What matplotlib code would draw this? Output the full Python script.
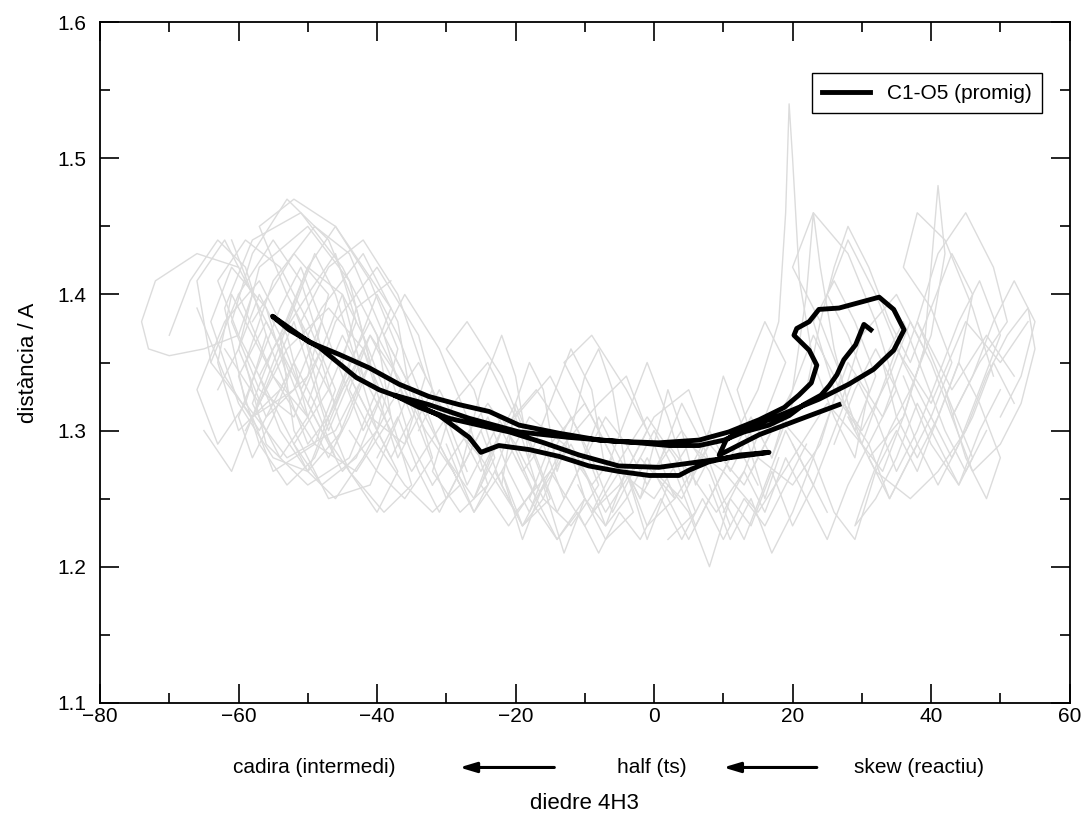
"""
plot.py — distància C1-O5 vs diedre 4H3 (trajectòries + promig)
"""

import matplotlib
matplotlib.use("Agg")
import matplotlib.pyplot as plt
from matplotlib.ticker import MultipleLocator

plt.rcParams["font.family"] = ["Liberation Sans", "DejaVu Sans"]

# ─────────────────────────────────────────────────────────
#  Trajectòries individuals (gris), llegides de la figura
# ─────────────────────────────────────────────────────────
traj_l1_x = [-60, -66, -72, -74, -73, -70, -65, -60, -58, -62, -66, -64, -58, -52, -48]
traj_l1_y = [1.42, 1.43, 1.41, 1.38, 1.36, 1.355, 1.36, 1.37, 1.40, 1.44, 1.41, 1.35, 1.31, 1.33, 1.38]

traj_l2_x = [-58, -52, -47, -50, -56, -60, -57, -50, -44, -41, -46, -53, -59, -62, -58,
             -51, -45, -40, -38, -43, -49, -55, -61, -63, -60, -54, -48, -42, -37, -35]
traj_l2_y = [1.38, 1.43, 1.40, 1.34, 1.31, 1.36, 1.42, 1.45, 1.41, 1.35, 1.30, 1.28, 1.32, 1.39, 1.44,
             1.46, 1.42, 1.37, 1.31, 1.27, 1.29, 1.34, 1.40, 1.35, 1.30, 1.33, 1.39, 1.43, 1.38, 1.32]

traj_l3_x = [-64, -60, -55, -51, -48, -52, -57, -61, -58, -53, -47, -43, -40, -44, -50,
             -56, -59, -55, -49, -44, -39, -36, -41, -47, -52, -54, -50, -45, -42, -46]
traj_l3_y = [1.35, 1.40, 1.44, 1.41, 1.36, 1.31, 1.33, 1.38, 1.43, 1.47, 1.44, 1.39, 1.33, 1.28, 1.26,
             1.29, 1.35, 1.41, 1.45, 1.43, 1.37, 1.32, 1.26, 1.25, 1.30, 1.37, 1.42, 1.40, 1.34, 1.29]

traj_l4_x = [-56, -60, -63, -59, -54, -50, -46, -49, -55, -58, -53, -47, -42, -38,
             -35, -39, -44, -48, -51, -47, -42, -37, -33, -36, -41, -45, -43, -38]
traj_l4_y = [1.33, 1.37, 1.41, 1.44, 1.42, 1.38, 1.33, 1.29, 1.27, 1.31, 1.36, 1.39, 1.36, 1.31,
             1.26, 1.24, 1.27, 1.32, 1.38, 1.42, 1.44, 1.40, 1.34, 1.29, 1.31, 1.35, 1.39, 1.41]

traj_l5_x = [-66, -62, -57, -53, -56, -61, -64, -60, -55, -50, -45, -48, -53,
             -57, -52, -46, -41, -37, -40, -45, -50, -46, -40, -34, -31]
traj_l5_y = [1.39, 1.34, 1.30, 1.34, 1.39, 1.42, 1.38, 1.32, 1.28, 1.27, 1.30, 1.35, 1.40,
             1.45, 1.47, 1.45, 1.41, 1.36, 1.30, 1.27, 1.32, 1.38, 1.42, 1.37, 1.31]

traj_l6_x = [-70, -67, -63, -59, -56, -59, -63, -66, -62, -57, -53, -50, -54, -58, -55,
             -50, -46, -43, -47, -52, -48, -43, -39]
traj_l6_y = [1.37, 1.41, 1.44, 1.42, 1.37, 1.32, 1.29, 1.33, 1.38, 1.41, 1.37, 1.31, 1.28, 1.32, 1.36,
             1.40, 1.43, 1.38, 1.33, 1.29, 1.26, 1.28, 1.33]

traj_l7_x = [-65, -61, -58, -55, -52, -49, -46, -43, -40, -37, -40, -44, -48, -52, -56,
             -60, -57, -53, -49, -45, -41, -38, -35, -32]
traj_l7_y = [1.30, 1.27, 1.31, 1.35, 1.39, 1.43, 1.40, 1.35, 1.30, 1.27, 1.24, 1.27, 1.30, 1.34, 1.38,
             1.34, 1.29, 1.26, 1.28, 1.33, 1.37, 1.34, 1.29, 1.26]

traj_l8_x = [-61, -58, -54, -51, -47, -44, -41, -38, -42, -46, -50, -53, -57, -54, -50,
             -46, -42, -38, -34, -30, -27]
traj_l8_y = [1.44, 1.40, 1.36, 1.32, 1.28, 1.31, 1.35, 1.39, 1.42, 1.45, 1.42, 1.38, 1.34, 1.30, 1.27,
             1.25, 1.28, 1.32, 1.35, 1.31, 1.27]

traj_l9_x = [-52, -49, -46, -43, -40, -37, -34, -31, -28, -32, -36, -40, -44, -41, -37, -33, -29, -26, -23]
traj_l9_y = [1.39, 1.35, 1.32, 1.36, 1.40, 1.37, 1.33, 1.29, 1.26, 1.24, 1.26, 1.29, 1.33, 1.37,
             1.34, 1.30, 1.27, 1.24, 1.27]

traj_l10_x = [-63, -60, -57, -54, -51, -48, -45, -42, -39, -42, -45, -48, -51, -54, -57,
              -60, -58, -55, -52, -49, -46]
traj_l10_y = [1.33, 1.36, 1.40, 1.37, 1.33, 1.36, 1.40, 1.37, 1.33, 1.30, 1.34, 1.38, 1.42, 1.39, 1.35,
              1.31, 1.28, 1.31, 1.35, 1.32, 1.28]

traj_l11_x = [-59, -56, -53, -50, -47, -44, -41, -38, -35, -38, -41, -44, -47, -50, -53, -56]
traj_l11_y = [1.30, 1.33, 1.30, 1.27, 1.31, 1.34, 1.31, 1.28, 1.31, 1.35, 1.38, 1.35, 1.31, 1.29, 1.33, 1.37]

traj_m1_x = [-44, -40, -36, -32, -35, -39, -36, -31, -27, -24, -28, -32, -29, -24, -20,
             -17, -21, -25, -22, -17, -13, -10, -14, -18, -15, -10, -6, -3, -7, -11]
traj_m1_y = [1.30, 1.27, 1.25, 1.28, 1.33, 1.37, 1.40, 1.36, 1.31, 1.26, 1.24, 1.27, 1.32, 1.35, 1.31,
             1.26, 1.23, 1.26, 1.30, 1.33, 1.30, 1.25, 1.22, 1.25, 1.29, 1.32, 1.28, 1.24, 1.22, 1.26]

traj_m2_x = [-38, -34, -30, -26, -23, -26, -30, -27, -22, -18, -15, -19, -23, -20, -15,
             -11, -8, -12, -16, -13, -8, -4, -1, -5, -9, -6, -1, 3, 6, 2]
traj_m2_y = [1.36, 1.32, 1.28, 1.25, 1.28, 1.33, 1.36, 1.38, 1.34, 1.29, 1.25, 1.23, 1.27, 1.31, 1.34,
             1.30, 1.26, 1.23, 1.25, 1.29, 1.32, 1.34, 1.30, 1.26, 1.24, 1.27, 1.31, 1.28, 1.24, 1.22]

traj_m3_x = [-32, -28, -24, -20, -16, -19, -22, -18, -13, -9, -6, -10, -13, -9,
             -4, 0, 3, -1, -4, 0, 5, 8, 4, 0, 4, 8, 11]
traj_m3_y = [1.26, 1.29, 1.32, 1.29, 1.25, 1.23, 1.27, 1.31, 1.29, 1.26, 1.28, 1.32, 1.35, 1.37,
             1.33, 1.29, 1.25, 1.23, 1.27, 1.31, 1.33, 1.29, 1.25, 1.27, 1.30, 1.27, 1.23]

traj_m4_x = [-28, -25, -22, -20, -18, -15, -12, -9, -7, -4, -1, 2, 5, 8, 10, 13, 16, 18]
traj_m4_y = [1.27, 1.33, 1.37, 1.34, 1.28, 1.32, 1.36, 1.33, 1.27, 1.31, 1.35, 1.31, 1.26, 1.30, 1.34, 1.30, 1.25, 1.28]

traj_m5_x = [-30, -26, -22, -19, -16, -13, -10, -7, -4, -1, 2, 5, 8, 11, 14, 17, 20, 23]
traj_m5_y = [1.29, 1.24, 1.27, 1.22, 1.26, 1.21, 1.25, 1.23, 1.27, 1.22, 1.26, 1.24, 1.20, 1.25, 1.23, 1.27, 1.23, 1.26]

traj_m6_x = [-36, -33, -30, -27, -24, -21, -18, -15, -12, -9, -6, -3, 0, 3, 6, 9, 12, 15]
traj_m6_y = [1.33, 1.29, 1.25, 1.28, 1.31, 1.27, 1.24, 1.28, 1.31, 1.28, 1.24, 1.27, 1.30, 1.27, 1.23, 1.26, 1.29, 1.26]

traj_m7_x = [-26, -23, -20, -17, -14, -11, -8, -5, -2, 1, 4, 7, 10, 13, 16, 19, 22, 25]
traj_m7_y = [1.25, 1.29, 1.32, 1.28, 1.24, 1.27, 1.31, 1.28, 1.25, 1.28, 1.32, 1.29, 1.25, 1.22, 1.26, 1.30, 1.27, 1.24]

traj_m8_x = [-22, -20, -18, -16, -14, -12, -10, -8, -6, -4, -2, 0, 2, 4, 6, 8]
traj_m8_y = [1.26, 1.32, 1.35, 1.33, 1.27, 1.30, 1.34, 1.36, 1.33, 1.27, 1.25, 1.29, 1.33, 1.30, 1.26, 1.28]

traj_m9_x = [-40, -37, -34, -31, -28, -25, -22, -19, -16, -13, -10, -7, -4, -1, 2, 5, 8, 11, 14, 17, 20]
traj_m9_y = [1.28, 1.31, 1.27, 1.24, 1.27, 1.30, 1.26, 1.23, 1.26, 1.29, 1.27, 1.23, 1.25, 1.28,
             1.25, 1.22, 1.25, 1.28, 1.31, 1.28, 1.32]

traj_m10_x = [-34, -31, -28, -25, -22, -19, -16, -13, -10, -7, -4, -1, 2, 5, 8, 11, 14]
traj_m10_y = [1.30, 1.33, 1.30, 1.27, 1.30, 1.27, 1.29, 1.25, 1.28, 1.31, 1.29, 1.26, 1.29, 1.27, 1.30, 1.27, 1.30]

traj_m11_x = [-20, -17, -14, -11, -8, -5, -2, 1, 4, 7, 10, 13, 16, 19, 22]
traj_m11_y = [1.28, 1.25, 1.22, 1.24, 1.21, 1.24, 1.22, 1.25, 1.22, 1.25, 1.22, 1.25, 1.23, 1.26, 1.29]

traj_r1_x = [5, 9, 13, 16, 19, 16, 12, 15, 20, 24, 27, 24, 20, 23, 28, 32, 35, 31, 27, 30, 35, 39, 36, 31, 34, 38]
traj_r1_y = [1.27, 1.24, 1.27, 1.31, 1.35, 1.38, 1.33, 1.28, 1.26, 1.29, 1.34, 1.38, 1.42,
             1.46, 1.43, 1.38, 1.33, 1.29, 1.32, 1.37, 1.40, 1.36, 1.31, 1.28, 1.25, 1.29]

traj_r2_x = [12, 15, 18, 19, 19.5, 20, 21, 23, 26, 29, 31, 28, 25, 28, 32, 36, 40, 43, 40, 36, 38, 42, 46, 49]
traj_r2_y = [1.30, 1.33, 1.38, 1.46, 1.54, 1.50, 1.41, 1.35, 1.31, 1.28, 1.33, 1.37,
             1.40, 1.44, 1.40, 1.35, 1.31, 1.35, 1.39, 1.42, 1.46, 1.44, 1.39, 1.34]

traj_r3_x = [28, 32, 37, 41, 45, 48, 51, 54, 55, 53, 50, 46, 43, 47, 51, 49, 45, 41, 38, 42, 46, 44, 40, 36]
traj_r3_y = [1.31, 1.27, 1.25, 1.27, 1.30, 1.34, 1.37, 1.39, 1.36, 1.32, 1.29, 1.27,
             1.31, 1.35, 1.38, 1.42, 1.46, 1.43, 1.38, 1.33, 1.28, 1.26, 1.29, 1.34]

traj_r4_x = [17, 20, 22, 23, 24, 26, 28, 30, 33, 36, 39, 40, 41, 42, 40, 37, 34, 31, 29, 32, 35, 38, 41, 44, 47, 50]
traj_r4_y = [1.28, 1.33, 1.40, 1.46, 1.42, 1.36, 1.32, 1.29, 1.27, 1.31, 1.36, 1.42, 1.48,
             1.43, 1.37, 1.33, 1.30, 1.26, 1.23, 1.25, 1.28, 1.32, 1.29, 1.26, 1.30, 1.33]

traj_r5_x = [8, 11, 14, 17, 20, 23, 26, 29, 32, 35, 38, 41, 44, 47, 50, 48, 45, 42]
traj_r5_y = [1.26, 1.22, 1.25, 1.21, 1.24, 1.28, 1.24, 1.22, 1.27, 1.30, 1.27, 1.31, 1.35, 1.32, 1.28, 1.25, 1.28, 1.33]

traj_r6_x = [14, 17, 20, 23, 26, 29, 32, 29, 26, 23, 26, 30, 34, 37, 40, 43, 46, 49, 52, 55, 53, 50]
traj_r6_y = [1.27, 1.30, 1.33, 1.37, 1.34, 1.30, 1.34, 1.38, 1.41, 1.38, 1.33, 1.30, 1.34, 1.38,
             1.35, 1.31, 1.34, 1.38, 1.41, 1.38, 1.34, 1.31]

traj_r7_x = [20, 23, 26, 29, 32, 35, 38, 41, 44, 47, 50, 47, 44, 41, 38, 35, 32, 29, 26]
traj_r7_y = [1.29, 1.26, 1.30, 1.34, 1.31, 1.27, 1.30, 1.34, 1.38, 1.41, 1.37, 1.33, 1.29, 1.26,
             1.29, 1.33, 1.36, 1.33, 1.29]

traj_r8_x = [22, 24, 26, 28, 31, 34, 37, 40, 43, 46, 44, 41, 38, 35, 33, 36, 39, 42, 45, 48]
traj_r8_y = [1.33, 1.38, 1.42, 1.45, 1.42, 1.38, 1.35, 1.39, 1.43, 1.40, 1.35, 1.31, 1.28, 1.31,
             1.35, 1.38, 1.34, 1.30, 1.27, 1.30]

traj_r9_x = [10, 13, 16, 19, 22, 25, 28, 31, 34, 37, 40, 43, 46, 49, 52]
traj_r9_y = [1.24, 1.27, 1.24, 1.28, 1.25, 1.22, 1.26, 1.29, 1.25, 1.28, 1.31, 1.28, 1.31, 1.35, 1.32]

traj_s1_x = [-62, -57, -52, -47, -42, -37, -32, -27, -22, -17, -12, -7, -2, 3, 8, 13, 18, 23, 28, 33, 38, 43, 48, 52]
traj_s1_y = [1.36, 1.32, 1.38, 1.30, 1.36, 1.28, 1.33, 1.26, 1.31, 1.25, 1.29, 1.24,
             1.28, 1.25, 1.29, 1.26, 1.31, 1.28, 1.35, 1.31, 1.38, 1.33, 1.37, 1.34]

traj_s2_x = [-60, -55, -50, -45, -40, -35, -30, -25, -20, -15, -10, -5, 0, 5, 10, 15, 20, 25, 30, 35, 40, 45, 50, 54]
traj_s2_y = [1.40, 1.34, 1.31, 1.37, 1.32, 1.27, 1.31, 1.28, 1.24, 1.27, 1.23, 1.27,
             1.25, 1.29, 1.27, 1.24, 1.28, 1.32, 1.29, 1.36, 1.32, 1.38, 1.35, 1.38]

# ─────────────────────────────────────────────────────────
#  Trajectòria promig C1-O5 (negre)
# ─────────────────────────────────────────────────────────
promig_x = [31.3, 30.3, 29.1, 27.4, 26.4, 25.3, 24.1, 21.6, 19.5, 16.6, 13.0, 10.1, 6.5, 2.2, -2.2,
            -7.9, -13.7, -19.5, -23.8, -28.1, -32.5, -36.8, -41.1, -45.5, -49.8, -53.4, -55.1,
            -52.7, -48.3, -43.0, -39.7, -35.4, -31.0, -26.7, -25.0,
            -22.4, -18.0, -13.7, -9.4, -5.1, -0.7, 3.6, 5.1, 7.9, 12.3, 16.6,
            10.8, 6.5, 0.7, -5.1, -10.8, -15.9, -20.9, -25.3, -29.6, -33.9, -37.5,
            -32.5, -26.7, -19.5, -12.3, -5.1, 0.7, 6.5, 10.8, 15.2, 18.8, 20.9, 22.7, 23.5, 22.4,
            20.2, 20.6, 22.4, 23.8, 26.7, 29.6, 32.5, 34.6, 36.1, 34.6, 31.7, 28.1, 23.8, 20.9,
            16.6, 12.3, 10.4, 9.4, 15.2, 20.9, 26.7]
promig_y = [1.374, 1.378, 1.363, 1.352, 1.341, 1.333, 1.326, 1.319, 1.311, 1.304, 1.299, 1.293, 1.289,
            1.289, 1.291, 1.293, 1.298, 1.304, 1.314, 1.319, 1.325, 1.334, 1.346, 1.356, 1.365, 1.378,
            1.384, 1.374, 1.361, 1.339, 1.330, 1.322, 1.311, 1.295, 1.284,
            1.289, 1.286, 1.281, 1.274, 1.270, 1.267, 1.267, 1.271, 1.277, 1.282, 1.284,
            1.280, 1.277, 1.273, 1.274, 1.282, 1.291, 1.299, 1.304, 1.309, 1.317, 1.326,
            1.319, 1.309, 1.299, 1.295, 1.292, 1.291, 1.293, 1.299, 1.308, 1.317, 1.326, 1.335,
            1.348, 1.359, 1.370, 1.375, 1.380, 1.389, 1.390, 1.394, 1.398, 1.389, 1.374, 1.359,
            1.345, 1.334, 1.323, 1.317, 1.308, 1.300, 1.293, 1.282, 1.297, 1.308, 1.319]

# Etiquetes de l'eix x (sentit de la reacció)
etiquetes_reaccio = ["cadira (intermedi)", "half (ts)", "skew (reactiu)"]
pos_etiquetes = [-49, -0.3, 38.2]
fletxes = [(-14.4, -28.1), (23.5, 10.0)]


def main():
    fig = plt.figure(figsize=(10.87, 8.22), dpi=100)
    ax = fig.add_axes([0.092, 0.145, 0.892, 0.828])

    grises = [
        (traj_l1_x, traj_l1_y), (traj_l2_x, traj_l2_y), (traj_l3_x, traj_l3_y),
        (traj_l4_x, traj_l4_y), (traj_l5_x, traj_l5_y), (traj_l6_x, traj_l6_y),
        (traj_l7_x, traj_l7_y), (traj_l8_x, traj_l8_y), (traj_l9_x, traj_l9_y),
        (traj_l10_x, traj_l10_y), (traj_l11_x, traj_l11_y),
        (traj_m1_x, traj_m1_y), (traj_m2_x, traj_m2_y), (traj_m3_x, traj_m3_y),
        (traj_m4_x, traj_m4_y), (traj_m5_x, traj_m5_y), (traj_m6_x, traj_m6_y),
        (traj_m7_x, traj_m7_y), (traj_m8_x, traj_m8_y), (traj_m9_x, traj_m9_y),
        (traj_m10_x, traj_m10_y), (traj_m11_x, traj_m11_y),
        (traj_r1_x, traj_r1_y), (traj_r2_x, traj_r2_y), (traj_r3_x, traj_r3_y),
        (traj_r4_x, traj_r4_y), (traj_r5_x, traj_r5_y), (traj_r6_x, traj_r6_y),
        (traj_r7_x, traj_r7_y), (traj_r8_x, traj_r8_y), (traj_r9_x, traj_r9_y),
        (traj_s1_x, traj_s1_y), (traj_s2_x, traj_s2_y),
    ]
    for xs, ys in grises:
        ax.plot(xs, ys, color="#dcdcdc", linewidth=1.0, zorder=1)

    ax.plot(promig_x, promig_y, color="black", linewidth=3.5,
            solid_joinstyle="round", label="C1-O5 (promig)", zorder=3)

    ax.set_xlim(-80, 60)
    ax.set_ylim(1.1, 1.6)
    ax.xaxis.set_major_locator(MultipleLocator(20))
    ax.xaxis.set_minor_locator(MultipleLocator(10))
    ax.yaxis.set_major_locator(MultipleLocator(0.1))
    ax.yaxis.set_minor_locator(MultipleLocator(0.05))
    ax.yaxis.set_major_formatter(plt.FuncFormatter(lambda v, p: f"{v:.1f}"))

    ax.tick_params(which="both", direction="in", top=True, right=True,
                   width=1.2, labelsize=15)
    ax.tick_params(which="major", length=14)
    ax.tick_params(which="minor", length=7)
    ax.tick_params(axis="x", pad=3)
    ax.tick_params(axis="y", pad=10)
    for sp in ax.spines.values():
        sp.set_linewidth(1.3)

    ax.set_ylabel("distància / A", fontsize=16)
    ax.yaxis.set_label_coords(-0.063, 0.5)
    ax.set_xlabel("diedre 4H3", fontsize=16)
    ax.xaxis.set_label_coords(0.5, -0.133)

    # etiquetes i fletxes sota l'eix x
    for txt, xp in zip(etiquetes_reaccio, pos_etiquetes):
        ax.text(xp, -0.095, txt, transform=ax.get_xaxis_transform(),
                ha="center", va="center", fontsize=15)
    for x0, x1 in fletxes:
        ax.annotate("", xy=(x1, -0.095), xytext=(x0, -0.095),
                    xycoords=ax.get_xaxis_transform(),
                    textcoords=ax.get_xaxis_transform(),
                    arrowprops=dict(arrowstyle="-|>,head_length=1.0,head_width=0.3",
                                    color="black", lw=2.2, shrinkA=0, shrinkB=0),
                    annotation_clip=False)

    leg = ax.legend(loc="upper right", bbox_to_anchor=(0.982, 0.94),
                    fontsize=15, fancybox=False, framealpha=1,
                    edgecolor="black", handlelength=2.3, borderpad=0.5)
    leg.get_frame().set_linewidth(1.0)

    plt.savefig("out.png", dpi=100)


if __name__ == "__main__":
    main()
